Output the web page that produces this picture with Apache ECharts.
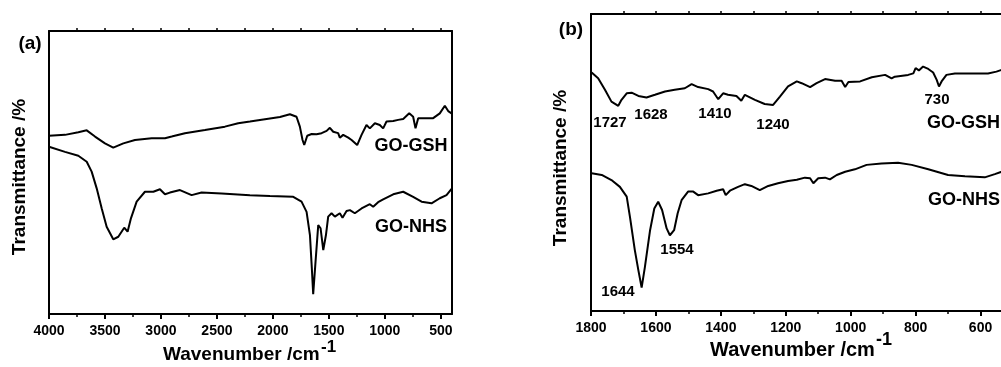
<!DOCTYPE html>
<html>
<head>
<meta charset="utf-8">
<script src="https://cdn.jsdelivr.net/npm/echarts@6/dist/echarts.min.js"></script>
<style>
  html, body { margin: 0; padding: 0; background: #fff; overflow: hidden; }
  /* panel (b) runs past the right edge of the window, as in the source figure */
  #chart { width: 1040px; height: 367px; }
</style>
</head>
<body>
<div id="chart"></div>
<script>
// (a) full range spectra, [wavenumber, transmittance (arb.)]
var gshA = [[4000,63.0],[3857,63.3],[3738,64.2],[3663,64.9],[3589,62.7],[3500,60.3],[3426,58.8],[3336,60.3],[3232,61.5],[3083,62.1],[2964,62.1],[2904,62.7],[2786,63.9],[2607,65.0],[2429,66.2],[2310,67.4],[2205,68.0],[2056,68.9],[1937,69.6],[1848,70.6],[1789,69.7],[1759,66.2],[1735,61.5],[1720,59.7],[1693,63.0],[1654,63.6],[1610,63.5],[1565,63.9],[1520,64.7],[1491,65.8],[1461,64.4],[1417,63.9],[1402,62.3],[1372,63.3],[1327,62.3],[1297,61.5],[1247,59.7],[1208,63.3],[1164,66.8],[1134,65.6],[1089,67.4],[1045,66.8],[1015,65.6],[985,68.0],[925,68.2],[881,68.6],[836,68.9],[782,70.9],[747,69.7],[726,65.6],[702,69.2],[627,69.2],[568,69.2],[509,70.9],[464,73.6],[434,71.7],[404,70.9]];
var nhsA = [[4000,59.1],[3857,57.3],[3738,55.9],[3663,53.8],[3619,50.3],[3574,44.4],[3529,37.3],[3485,30.8],[3426,26.4],[3381,27.3],[3328,30.5],[3298,29.1],[3268,33.8],[3217,39.7],[3143,43.2],[3068,43.2],[3009,44.1],[2964,42.3],[2920,42.9],[2830,43.8],[2726,42.0],[2637,42.9],[2458,42.6],[2205,42.0],[2027,41.7],[1818,41.4],[1744,39.7],[1699,36.1],[1669,27.9],[1652,16.1],[1640,7.0],[1619,18.5],[1595,31.4],[1574,30.3],[1550,22.6],[1526,27.9],[1506,34.4],[1476,35.6],[1446,34.4],[1402,35.6],[1378,34.0],[1342,36.4],[1312,36.7],[1268,35.6],[1208,37.3],[1134,38.8],[1104,37.9],[1060,39.5],[1015,40.5],[925,42.3],[836,43.2],[747,41.4],[672,39.7],[583,39.1],[509,40.9],[449,42.0],[404,44.2]];
// (b) 1800-500 region
var gshB = [[1798,80.3],[1778,78.4],[1757,74.5],[1737,70.5],[1716,69.1],[1706,71.1],[1690,73.3],[1675,73.5],[1654,72.4],[1629,71.9],[1603,72.8],[1572,73.9],[1542,74.5],[1511,75.0],[1490,76.4],[1470,75.4],[1439,74.7],[1424,73.9],[1408,71.3],[1393,73.3],[1378,72.8],[1352,72.4],[1337,70.8],[1326,72.8],[1295,71.1],[1265,69.7],[1239,69.4],[1218,72.2],[1193,75.6],[1166,77.3],[1151,76.7],[1125,75.4],[1105,76.7],[1079,78.1],[1048,77.5],[1028,77.5],[1017,75.4],[1007,77.1],[971,77.3],[935,78.7],[894,79.5],[874,78.3],[864,78.9],[823,79.5],[807,80.0],[800,81.8],[790,81.0],[777,82.3],[761,81.5],[746,80.3],[735,77.8],[728,75.6],[720,77.3],[705,79.5],[679,80.0],[628,80.0],[577,80.0],[551,80.6],[535,81.2],[515,81.8]];
var nhsB = [[1798,46.4],[1767,45.8],[1737,44.1],[1711,41.8],[1690,38.5],[1680,31.7],[1665,20.5],[1654,13.7],[1644,7.9],[1634,14.8],[1618,27.2],[1605,34.5],[1593,36.8],[1581,34.0],[1567,27.8],[1557,25.5],[1544,27.2],[1533,32.9],[1521,37.3],[1501,40.2],[1485,40.2],[1470,39.0],[1439,39.6],[1413,40.5],[1393,41.0],[1385,39.0],[1372,40.5],[1347,41.8],[1326,42.7],[1306,42.1],[1280,40.7],[1254,42.1],[1224,43.0],[1193,43.8],[1166,44.2],[1141,44.9],[1125,44.7],[1115,43.0],[1100,44.7],[1079,44.9],[1064,44.3],[1043,45.8],[1017,46.9],[987,47.7],[951,49.2],[905,49.7],[854,49.9],[812,49.2],[761,47.7],[700,45.8],[648,45.4],[587,45.0],[556,46.1],[535,46.9],[515,47.8]];

// tick labels
var ticksA = [500, 1000, 1500, 2000, 2500, 3000, 3500, 4000];
var minorA = [750, 1250, 1750, 2250, 2750, 3250, 3750];
var topA = [500, 750, 1000, 1250, 1500, 1750, 2000, 2250, 2500, 2750, 3000, 3250, 3500, 3750];
var ticksB = [600, 800, 1000, 1200, 1400, 1600, 1800];
var minorB = [700, 900, 1100, 1300, 1500, 1700];
var topB = [600, 700, 800, 900, 1000, 1100, 1200, 1300, 1400, 1500, 1600, 1700];

var FONT = '"Liberation Sans", Arial, sans-serif';
var line = { show: true, onZero: false, lineStyle: { color: '#000', width: 2 } };

function xBottom(grid, min, max, ticks) {
  return {
    type: 'value', gridIndex: grid, position: 'bottom', inverse: true, min: min, max: max,
    axisLine: line,
    axisTick: { show: true, customValues: ticks, length: 5, lineStyle: { color: '#000', width: 2 } },
    axisLabel: {
      customValues: ticks, color: '#000', fontFamily: FONT, fontWeight: 'bold', fontSize: 14, margin: 10,
      formatter: function (v) { return String(v); }
    },
    splitLine: { show: false }
  };
}
function xMinor(grid, min, max, ticks, pos) {
  return {
    type: 'value', gridIndex: grid, position: pos, inverse: true, min: min, max: max,
    axisLine: pos === 'top' ? line : { show: false },
    axisTick: { show: true, customValues: ticks, length: 3, lineStyle: { color: '#000', width: 1.5 } },
    axisLabel: { show: false },
    splitLine: { show: false }
  };
}
function yAx(grid, pos) {
  return {
    type: 'value', gridIndex: grid, position: pos, min: 0, max: 100,
    axisLine: line, axisTick: { show: false }, axisLabel: { show: false }, splitLine: { show: false }
  };
}
function txt(x, y, s, size, align, rot) {
  return {
    type: 'text', x: x, y: y, rotation: rot || 0, silent: true,
    style: {
      text: s, fill: '#000', fontFamily: FONT, fontWeight: 'bold', fontSize: size,
      align: align || 'center', verticalAlign: 'middle',
      textAlign: align || 'center', textVerticalAlign: 'middle'
    }
  };
}
function spec(data, xi, yi) {
  return {
    type: 'line', data: data, xAxisIndex: xi, yAxisIndex: yi, showSymbol: false,
    lineStyle: { color: '#000', width: 2 }, animation: false, silent: true
  };
}

var chart = echarts.init(document.getElementById('chart'));
chart.setOption({
  animation: false,
  grid: [
    { left: 49, top: 31, width: 403, height: 283 },
    { left: 591, top: 14, width: 422, height: 297 }
  ],
  xAxis: [
    xBottom(0, 400, 4000, ticksA),
    xMinor(0, 400, 4000, minorA, 'bottom'),
    xMinor(0, 400, 4000, topA, 'top'),
    xBottom(1, 500, 1800, ticksB),
    xMinor(1, 500, 1800, minorB, 'bottom'),
    xMinor(1, 500, 1800, topB, 'top')
  ],
  yAxis: [yAx(0, 'left'), yAx(0, 'right'), yAx(1, 'left'), yAx(1, 'right')],
  series: [
    spec(gshA, 0, 0), spec(nhsA, 0, 0),
    spec(gshB, 3, 2), spec(nhsB, 3, 2)
  ],
  graphic: [
    txt(30, 44, '(a)', 19),
    txt(571, 30, '(b)', 19),
    txt(411, 146, 'GO-GSH', 18),
    txt(411, 227, 'GO-NHS', 18),
    txt(927, 123, 'GO-GSH', 18, 'left'),
    txt(928, 200, 'GO-NHS', 18, 'left'),
    txt(610, 123, '1727', 15),
    txt(651, 115, '1628', 15),
    txt(715, 114, '1410', 15),
    txt(773, 125, '1240', 15),
    txt(937, 100, '730', 15),
    txt(677, 250, '1554', 15),
    txt(618, 292, '1644', 15),
    txt(163, 355, 'Wavenumber /cm', 19, 'left'),
    txt(321, 347, '-1', 17, 'left'),
    txt(710, 350, 'Wavenumber /cm', 20, 'left'),
    txt(876, 340, '-1', 18, 'left'),
    txt(20, 177, 'Transmittance /%', 19, 'center', Math.PI / 2),
    txt(561, 168, 'Transmittance /%', 19, 'center', Math.PI / 2)
  ]
});
</script>
</body>
</html>
